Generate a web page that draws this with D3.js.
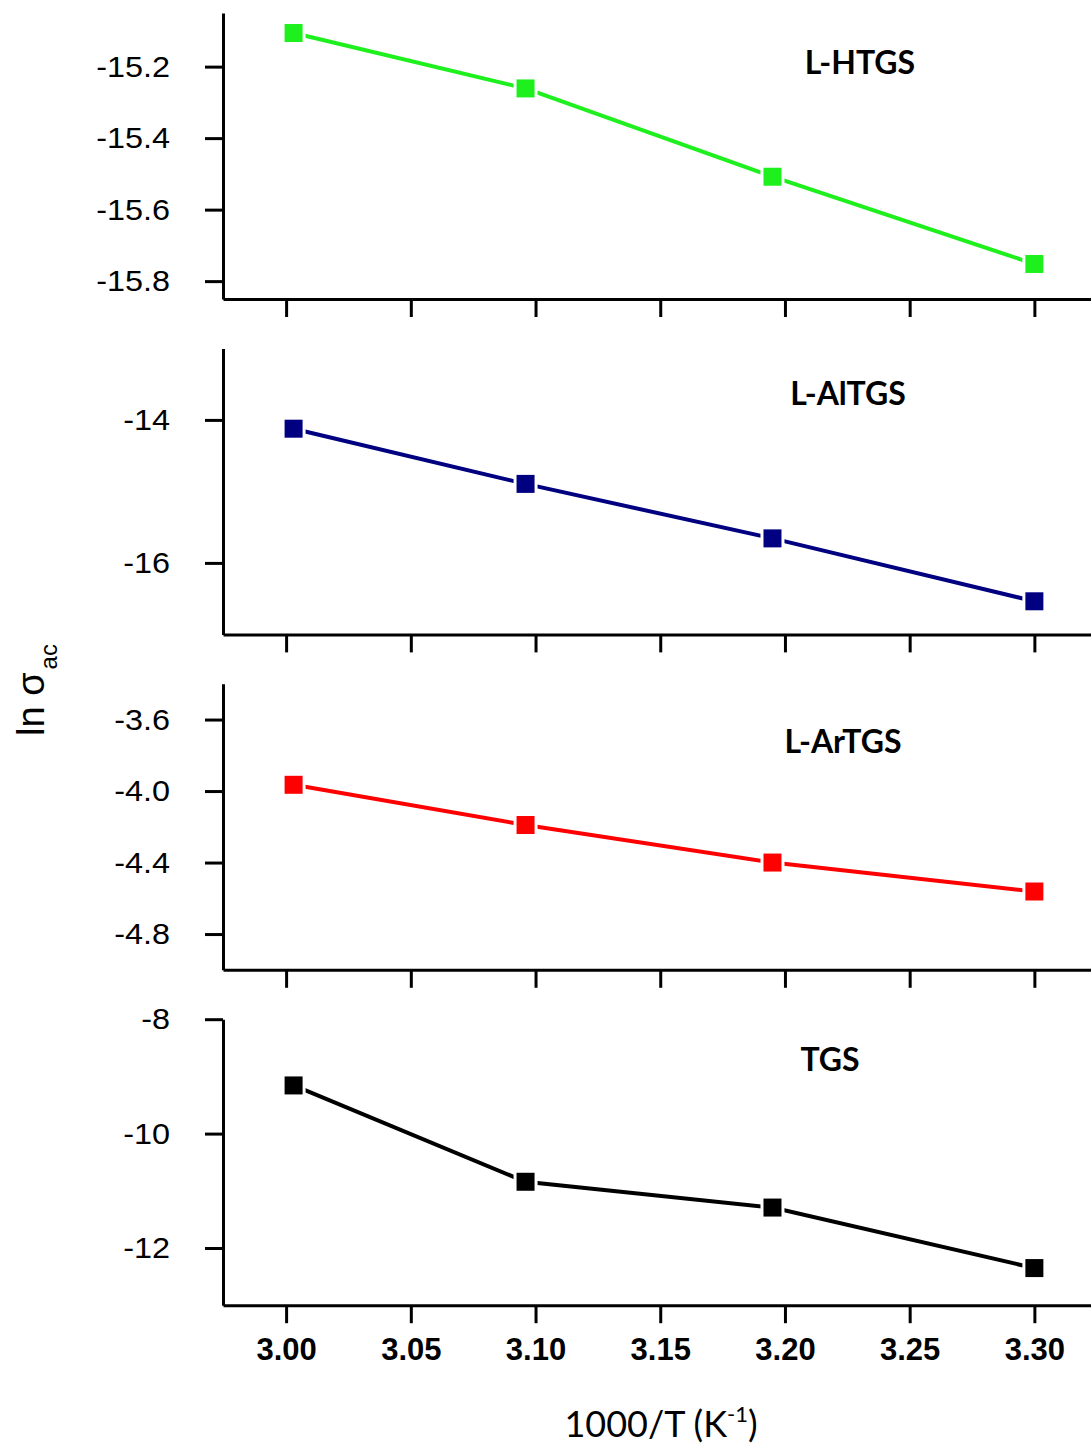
<!DOCTYPE html>
<html>
<head>
<meta charset="utf-8">
<script src="https://cdn.jsdelivr.net/npm/d3@7"></script>
<style>
  body { margin: 0; background: #fff; }
  svg { display: block; }
</style>
</head>
<body>
<svg width="1091" height="1450"></svg>
<script>
// 1000/T values (K^-1), shared by all four samples
const invT = [3.003, 3.096, 3.195, 3.300]

const names = ["L-HTGS", "L-AlTGS", "L-ArTGS", "TGS"]
const lnSigmaHTGS = [-15.106, -15.261, -15.508, -15.752]
const lnSigmaAlTGS = [-14.123, -14.895, -15.657, -16.537]
const lnSigmaArTGS = [-3.965, -4.190, -4.400, -4.562]
const lnSigmaTGS = [-9.158, -10.842, -11.293, -12.351]

const xTicks = [3.00, 3.05, 3.10, 3.15, 3.20, 3.25, 3.30]
const yTicksHTGS = [-15.8, -15.6, -15.4, -15.2]
const yTicksAlTGS = [-16, -14]
const yTicksArTGS = [-4.8, -4.4, -4.0, -3.6]
const yTicksTGS = [-12, -10, -8]

const xDomain = [2.9747, 3.3227]
const yDomains = [[-15.85, -15.05], [-17, -13], [-5.0, -3.4], [-13, -8]]

const panels = [
    {name: names[0], values: lnSigmaHTGS, ticks: yTicksHTGS, digits: 1, color: "#1ef01e", label: [637, 61]},
    {name: names[1], values: lnSigmaAlTGS, ticks: yTicksAlTGS, digits: 0, color: "#000080", label: [625, 57]},
    {name: names[2], values: lnSigmaArTGS, ticks: yTicksArTGS, digits: 1, color: "#ff0000", label: [620, 69]},
    {name: names[3], values: lnSigmaTGS, ticks: yTicksTGS, digits: 0, color: "#000000", label: [607, 52]}
]

const margin = {left: 223, top: 13}
const panelHeight = 286
const panelStep = 335.4
const graphWidth = 1091 - margin.left

const svg = d3.select("svg")

const scaleX = d3.scaleLinear().domain(xDomain).range([0, graphWidth])

panels.forEach(function (p, i) {
    let top = margin.top + i * panelStep
    let g = svg.append("g")
        .attr("transform", "translate(" + margin.left + "," + top + ")")

    let scaleY = d3.scaleLinear().domain(yDomains[i]).range([panelHeight, 0])

    // axe Y
    let gy = g.append("g")
        .call(d3.axisLeft(scaleY)
            .tickValues(p.ticks)
            .tickSize(18)
            .tickSizeOuter(0)
            .tickPadding(35)
            .tickFormat(d => d.toFixed(p.digits)))
    gy.selectAll("text")
        .attr("font-family", "'Liberation Sans', Arial, sans-serif")
        .attr("font-size", 30)
        .attr("fill", "#000")
        .each(function () {
            let w = this.getComputedTextLength()
            d3.select(this).attr("textLength", w * 1.08).attr("lengthAdjust", "spacingAndGlyphs")
        })

    // axe X
    let gx = g.append("g")
        .attr("transform", "translate(0," + panelHeight + ")")
        .call(d3.axisBottom(scaleX)
            .tickValues(xTicks)
            .tickSize(18)
            .tickSizeOuter(0)
            .tickPadding(15)
            .tickFormat(i == panels.length - 1 ? d3.format(".2f") : ""))
    gx.selectAll("text")
        .attr("font-family", "'Liberation Sans', Arial, sans-serif")
        .attr("font-size", 31)
        .attr("font-weight", "bold")
        .attr("fill", "#000")

    g.selectAll(".domain, .tick line")
        .attr("stroke", "#000")
        .attr("stroke-width", 3)

    let pts = invT.map((x, k) => ({x: x, y: p.values[k]}))

    let line = d3.line()
        .x(d => scaleX(d.x))
        .y(d => scaleY(d.y))
    g.append("path")
        .attr("d", line(pts))
        .attr("fill", "none")
        .attr("stroke", p.color)
        .attr("stroke-width", 4)

    let s = 21
    g.selectAll("rect.pt")
        .data(pts)
        .enter()
        .append("rect")
        .attr("class", "pt")
        .attr("x", d => scaleX(d.x) - s / 2)
        .attr("y", d => scaleY(d.y) - s / 2)
        .attr("width", s)
        .attr("height", s)
        .attr("fill", p.color)
        .attr("stroke", "#fff")
        .attr("stroke-width", 3)

    g.append("text")
        .attr("x", p.label[0])
        .attr("y", p.label[1])
        .attr("text-anchor", "middle")
        .attr("font-family", "Lato, 'Open Sans', sans-serif")
        .attr("font-weight", "bold")
        .attr("font-size", 32)
        .attr("fill", "#000")
        .text(p.name)
})

// titre axe X
let xt = svg.append("text")
    .attr("x", 661)
    .attr("y", 1437)
    .attr("text-anchor", "middle")
    .attr("font-family", "Lato, 'Open Sans', sans-serif")
    .attr("font-size", 36)
    .attr("fill", "#000")
xt.append("tspan").text("1000/T (K")
xt.append("tspan").attr("font-size", 22).attr("dy", -15).text("-1")
xt.append("tspan").attr("dy", 15).text(")")

// titre axe Y
let yt = svg.append("text")
    .attr("transform", "translate(44,690) rotate(-90)")
    .attr("text-anchor", "middle")
    .attr("font-family", "'Liberation Sans', Arial, sans-serif")
    .attr("font-size", 38)
    .attr("fill", "#000")
yt.append("tspan").text("ln σ")
yt.append("tspan").attr("font-size", 24).attr("dy", 13).attr("dx", 3).text("ac")
</script>
</body>
</html>
